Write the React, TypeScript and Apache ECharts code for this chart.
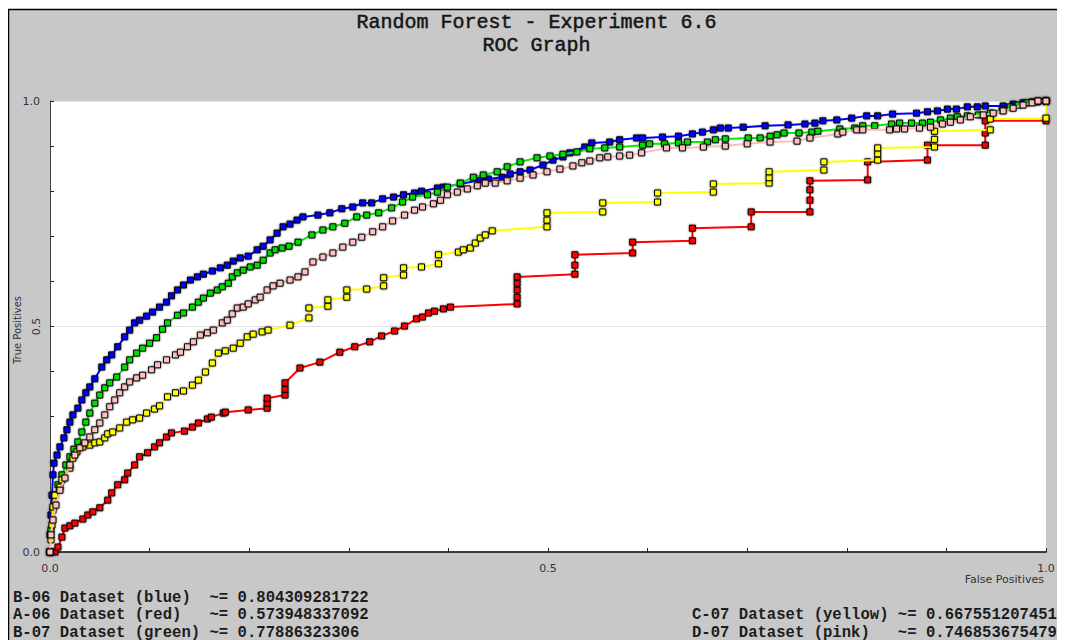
import React, { useEffect, useRef } from "react";
import * as echarts from "echarts";

// ROC points as [false positive rate, true positive rate]
const blueRoc: number[][] = [
  [0, 0], [0, 0.038], [0.001, 0.082], [0.002, 0.126], [0.003, 0.171], [0.004, 0.197], [0.007, 0.215],
  [0.01, 0.233], [0.014, 0.253], [0.017, 0.271], [0.02, 0.288], [0.023, 0.304], [0.028, 0.319],
  [0.032, 0.337], [0.036, 0.353], [0.04, 0.366], [0.045, 0.384], [0.052, 0.41], [0.057, 0.426],
  [0.062, 0.437], [0.068, 0.455], [0.075, 0.477], [0.08, 0.492], [0.085, 0.508], [0.09, 0.514],
  [0.097, 0.523], [0.103, 0.532], [0.11, 0.543], [0.117, 0.554], [0.122, 0.568], [0.128, 0.581],
  [0.134, 0.592], [0.141, 0.603], [0.148, 0.61], [0.154, 0.616], [0.163, 0.623], [0.171, 0.63],
  [0.178, 0.636], [0.184, 0.645], [0.191, 0.652], [0.199, 0.656], [0.208, 0.67], [0.214, 0.678],
  [0.221, 0.692], [0.228, 0.707], [0.234, 0.721], [0.241, 0.727], [0.248, 0.736], [0.254, 0.743],
  [0.269, 0.747], [0.281, 0.752], [0.293, 0.761], [0.304, 0.765], [0.314, 0.774], [0.323, 0.774],
  [0.334, 0.783], [0.345, 0.787], [0.355, 0.792], [0.366, 0.796], [0.373, 0.8], [0.389, 0.807],
  [0.395, 0.809], [0.412, 0.816], [0.432, 0.825], [0.44, 0.827], [0.454, 0.831], [0.462, 0.838],
  [0.472, 0.843], [0.482, 0.847], [0.495, 0.858], [0.505, 0.869], [0.515, 0.876], [0.522, 0.885],
  [0.537, 0.898], [0.544, 0.907], [0.562, 0.909], [0.572, 0.914], [0.589, 0.918], [0.595, 0.918],
  [0.615, 0.92], [0.631, 0.922], [0.645, 0.927], [0.655, 0.931], [0.666, 0.936], [0.673, 0.94],
  [0.681, 0.94], [0.696, 0.942], [0.718, 0.945], [0.741, 0.947], [0.758, 0.949], [0.768, 0.951],
  [0.776, 0.956], [0.79, 0.958], [0.805, 0.962], [0.82, 0.967], [0.831, 0.967], [0.846, 0.971],
  [0.87, 0.973], [0.881, 0.976], [0.891, 0.978], [0.901, 0.982], [0.91, 0.982], [0.921, 0.987],
  [0.931, 0.987], [0.939, 0.989], [0.957, 0.989], [0.967, 0.993], [0.977, 0.996], [0.986, 0.998],
  [0.992, 1], [1, 1],
];

const redRoc: number[][] = [
  [0, 0], [0.005, 0], [0.008, 0.011], [0.012, 0.033], [0.015, 0.053], [0.02, 0.058], [0.025, 0.064],
  [0.033, 0.073], [0.038, 0.082], [0.043, 0.089], [0.05, 0.098], [0.058, 0.115], [0.062, 0.131],
  [0.068, 0.149], [0.075, 0.16], [0.078, 0.175], [0.085, 0.193], [0.09, 0.211], [0.098, 0.22],
  [0.105, 0.233], [0.11, 0.242], [0.117, 0.255], [0.122, 0.264], [0.135, 0.268], [0.143, 0.277],
  [0.149, 0.286], [0.158, 0.295], [0.162, 0.299], [0.174, 0.308], [0.176, 0.31], [0.199, 0.315],
  [0.218, 0.319], [0.218, 0.33], [0.218, 0.341], [0.236, 0.348], [0.236, 0.361], [0.236, 0.375],
  [0.251, 0.408], [0.271, 0.421], [0.291, 0.443], [0.306, 0.455], [0.321, 0.466], [0.333, 0.479],
  [0.346, 0.49], [0.356, 0.501], [0.368, 0.517], [0.374, 0.521], [0.38, 0.53], [0.386, 0.534],
  [0.395, 0.539], [0.402, 0.543], [0.469, 0.55], [0.469, 0.565], [0.469, 0.581], [0.469, 0.596],
  [0.469, 0.61], [0.527, 0.616], [0.527, 0.636], [0.527, 0.659], [0.585, 0.663], [0.585, 0.687],
  [0.645, 0.69], [0.645, 0.718], [0.704, 0.721], [0.704, 0.754], [0.763, 0.754], [0.763, 0.78],
  [0.763, 0.803], [0.763, 0.823], [0.821, 0.825], [0.821, 0.865], [0.881, 0.869], [0.881, 0.902],
  [0.939, 0.902], [0.939, 0.929], [0.939, 0.956], [1, 0.956], [1, 1],
];

const greenRoc: number[][] = [
  [0, 0], [0.001, 0.049], [0.003, 0.093], [0.005, 0.126], [0.008, 0.149], [0.012, 0.171],
  [0.016, 0.193], [0.02, 0.211], [0.024, 0.228], [0.028, 0.244], [0.032, 0.266], [0.036, 0.288],
  [0.04, 0.308], [0.045, 0.33], [0.05, 0.348], [0.055, 0.364], [0.06, 0.375], [0.067, 0.388],
  [0.075, 0.41], [0.08, 0.426], [0.087, 0.441], [0.093, 0.452], [0.1, 0.463], [0.107, 0.475],
  [0.113, 0.494], [0.118, 0.508], [0.128, 0.525], [0.134, 0.53], [0.143, 0.543], [0.149, 0.554],
  [0.154, 0.563], [0.161, 0.574], [0.168, 0.581], [0.173, 0.588], [0.179, 0.596], [0.183, 0.61],
  [0.188, 0.619], [0.194, 0.625], [0.201, 0.632], [0.208, 0.636], [0.214, 0.647], [0.221, 0.663],
  [0.226, 0.67], [0.233, 0.674], [0.24, 0.678], [0.249, 0.687], [0.263, 0.703], [0.274, 0.714],
  [0.284, 0.721], [0.296, 0.729], [0.308, 0.743], [0.318, 0.747], [0.33, 0.752], [0.343, 0.763],
  [0.354, 0.776], [0.364, 0.787], [0.379, 0.792], [0.389, 0.798], [0.399, 0.809], [0.412, 0.818],
  [0.425, 0.831], [0.435, 0.836], [0.449, 0.843], [0.459, 0.854], [0.472, 0.865], [0.489, 0.874],
  [0.502, 0.878], [0.515, 0.882], [0.529, 0.887], [0.542, 0.894], [0.557, 0.896], [0.572, 0.898],
  [0.595, 0.902], [0.602, 0.905], [0.617, 0.905], [0.631, 0.907], [0.64, 0.909], [0.66, 0.909],
  [0.668, 0.914], [0.678, 0.916], [0.701, 0.918], [0.713, 0.918], [0.723, 0.922], [0.73, 0.925],
  [0.737, 0.929], [0.752, 0.929], [0.765, 0.931], [0.771, 0.933], [0.793, 0.938], [0.808, 0.94],
  [0.816, 0.945], [0.828, 0.945], [0.845, 0.949], [0.853, 0.951], [0.865, 0.951], [0.876, 0.951],
  [0.884, 0.953], [0.894, 0.958], [0.904, 0.962], [0.911, 0.965], [0.921, 0.967], [0.932, 0.969],
  [0.944, 0.973], [0.956, 0.98], [0.964, 0.987], [0.972, 0.991], [0.981, 0.996], [0.991, 0.998],
  [1, 1],
];

const yellowRoc: number[][] = [
  [0, 0], [0.001, 0.027], [0.002, 0.06], [0.003, 0.1], [0.005, 0.126], [0.01, 0.144], [0.012, 0.16],
  [0.02, 0.186], [0.023, 0.208], [0.027, 0.222], [0.033, 0.233], [0.04, 0.237], [0.045, 0.242],
  [0.05, 0.244], [0.055, 0.253], [0.058, 0.262], [0.063, 0.266], [0.07, 0.275], [0.077, 0.288],
  [0.083, 0.293], [0.09, 0.297], [0.097, 0.308], [0.105, 0.317], [0.11, 0.324], [0.118, 0.344],
  [0.126, 0.353], [0.134, 0.357], [0.143, 0.37], [0.149, 0.381], [0.156, 0.399], [0.163, 0.419],
  [0.169, 0.441], [0.176, 0.446], [0.184, 0.452], [0.191, 0.463], [0.198, 0.477], [0.204, 0.483],
  [0.213, 0.488], [0.219, 0.492], [0.241, 0.503], [0.26, 0.519], [0.26, 0.541], [0.279, 0.545],
  [0.279, 0.559], [0.298, 0.565], [0.298, 0.581], [0.318, 0.583], [0.335, 0.59], [0.335, 0.608],
  [0.355, 0.614], [0.355, 0.63], [0.373, 0.632], [0.39, 0.639], [0.39, 0.659], [0.41, 0.665],
  [0.415, 0.67], [0.422, 0.674], [0.427, 0.685], [0.432, 0.696], [0.437, 0.703], [0.444, 0.712],
  [0.499, 0.721], [0.499, 0.736], [0.499, 0.752], [0.555, 0.754], [0.555, 0.774], [0.61, 0.776],
  [0.61, 0.796], [0.666, 0.798], [0.666, 0.816], [0.722, 0.818], [0.722, 0.83], [0.722, 0.843],
  [0.777, 0.847], [0.777, 0.865], [0.831, 0.869], [0.831, 0.883], [0.831, 0.896], [0.888, 0.898],
  [0.888, 0.915], [0.888, 0.933], [0.944, 0.936], [0.944, 0.96], [1, 0.962], [1, 1],
];

const pinkRoc: number[][] = [
  [0, 0], [0.001, 0.038], [0.003, 0.071], [0.006, 0.104], [0.01, 0.137], [0.015, 0.164],
  [0.02, 0.193], [0.025, 0.215], [0.03, 0.231], [0.035, 0.242], [0.04, 0.255], [0.045, 0.271],
  [0.05, 0.286], [0.055, 0.304], [0.06, 0.322], [0.065, 0.337], [0.07, 0.353], [0.075, 0.366],
  [0.08, 0.377], [0.087, 0.386], [0.093, 0.392], [0.102, 0.404], [0.108, 0.415], [0.117, 0.426],
  [0.126, 0.437], [0.131, 0.443], [0.138, 0.455], [0.144, 0.466], [0.151, 0.481], [0.158, 0.486],
  [0.164, 0.492], [0.173, 0.508], [0.178, 0.514], [0.183, 0.528], [0.188, 0.541], [0.194, 0.543],
  [0.199, 0.55], [0.206, 0.559], [0.211, 0.565], [0.218, 0.581], [0.224, 0.59], [0.231, 0.596],
  [0.241, 0.603], [0.249, 0.61], [0.256, 0.621], [0.264, 0.643], [0.274, 0.654], [0.284, 0.663],
  [0.294, 0.676], [0.304, 0.687], [0.313, 0.698], [0.324, 0.71], [0.334, 0.721], [0.344, 0.734],
  [0.356, 0.747], [0.366, 0.758], [0.374, 0.765], [0.385, 0.772], [0.392, 0.78], [0.399, 0.792],
  [0.409, 0.798], [0.419, 0.805], [0.429, 0.812], [0.437, 0.818], [0.447, 0.818], [0.459, 0.823],
  [0.472, 0.829], [0.485, 0.836], [0.499, 0.843], [0.512, 0.849], [0.525, 0.856], [0.534, 0.863],
  [0.542, 0.867], [0.552, 0.874], [0.56, 0.876], [0.572, 0.878], [0.582, 0.88], [0.594, 0.885],
  [0.619, 0.896], [0.635, 0.896], [0.656, 0.898], [0.678, 0.9], [0.7, 0.905], [0.723, 0.909],
  [0.75, 0.911], [0.763, 0.918], [0.791, 0.927], [0.796, 0.931], [0.81, 0.936], [0.816, 0.936],
  [0.843, 0.936], [0.85, 0.938], [0.858, 0.938], [0.873, 0.94], [0.884, 0.942], [0.896, 0.949],
  [0.904, 0.953], [0.914, 0.958], [0.924, 0.965], [0.937, 0.969], [0.947, 0.973], [0.957, 0.978],
  [0.967, 0.984], [0.977, 0.991], [0.986, 0.996], [0.992, 1], [1, 1],
];

const datasetNames = [
  "B-06 Dataset (blue)",
  "A-06 Dataset (red)",
  "B-07 Dataset (green)",
  "C-07 Dataset (yellow)",
  "D-07 Dataset (pink)",
];
const aucValues = ["0.804309281722", "0.573948337092", "0.77886323306", "0.667551207451", "0.746853675479"];
const lineColors = ["#0000ff", "#ff0000", "#00f000", "#ffff00", "#ffbcbc"];
const markerColors = ["#0000ff", "#ff0000", "#00e000", "#ffff00", "#ffc0c0"];
const rocSeries = [blueRoc, redRoc, greenRoc, yellowRoc, pinkRoc];

const xTickLabels = ["0.0", "0.5", "1.0"];
const yTickLabels = ["0.0", "1.0"];
const yMidLabels = ["0.5"];

const titleLines = ["Random Forest - Experiment 6.6", "ROC Graph"];
const xAxisName = "False Positives";
const yAxisName = "True Positives";

const W = 1057;
const H = 632;
const GRID = { left: 42, top: 93, width: 996, height: 451 };
const MONO = "'Liberation Mono', 'DejaVu Sans Mono', monospace";
const SANS = "'DejaVu Sans', 'Liberation Sans', sans-serif";

function legendLine(i: number, pad: number): string {
  return datasetNames[i].padEnd(pad, " ") + "~= " + aucValues[i];
}

export default function App() {
  const ref = useRef<HTMLDivElement>(null);

  useEffect(() => {
    if (!ref.current) return;
    const chart = echarts.init(ref.current, undefined, { renderer: "svg" });

    const legendStyle = {
      font: `bold 15.6px ${MONO}`,
      fill: "#1c1c1c",
      textVerticalAlign: "middle",
    };
    const legendLeft = [0, 1, 2].map((i, k) => ({
      type: "text",
      x: 5,
      y: 589.5 + k * 17.5,
      style: { ...legendStyle, text: legendLine(i, 21) },
    }));
    const legendRight = [3, 4].map((i, k) => ({
      type: "text",
      x: 684,
      y: 607 + k * 17.5,
      style: { ...legendStyle, text: legendLine(i, 22) },
    }));

    chart.setOption({
      animation: false,
      backgroundColor: "#c8c8c8",
      grid: {
        left: GRID.left,
        top: GRID.top,
        width: GRID.width,
        height: GRID.height,
        show: true,
        backgroundColor: "#ffffff",
        borderWidth: 0,
      },
      xAxis: {
        type: "value",
        min: 0,
        max: 1,
        interval: 0.1,
        axisLine: { lineStyle: { color: "#000", width: 1.5 } },
        axisTick: { inside: true, length: 4, lineStyle: { color: "#222" } },
        axisLabel: {
          margin: 11,
          fontSize: 11,
          fontFamily: SANS,
          color: "#333",
          showMinLabel: true,
          showMaxLabel: true,
          formatter: (v: number) => (xTickLabels.includes(v.toFixed(1)) ? v.toFixed(1) : ""),
        },
        splitLine: { show: false },
      },
      yAxis: [
        {
          type: "value",
          min: 0,
          max: 1,
          interval: 0.1,
          position: "left",
          axisLine: { show: true, lineStyle: { color: "#444", width: 1 } },
          axisTick: { show: true, inside: true, length: 4, lineStyle: { color: "#222" } },
          axisLabel: {
            margin: 10,
            fontSize: 11,
            fontFamily: SANS,
            color: "#333",
            showMinLabel: true,
            showMaxLabel: true,
            formatter: (v: number) => (yTickLabels.includes(v.toFixed(1)) ? v.toFixed(1) : ""),
          },
          splitLine: { show: false },
        },
        {
          type: "value",
          min: 0,
          max: 1,
          interval: 0.5,
          position: "left",
          axisLine: { show: false },
          axisTick: { show: false },
          axisLabel: {
            margin: 8,
            rotate: 90,
            fontSize: 11,
            fontFamily: SANS,
            color: "#333",
            formatter: (v: number) => (yMidLabels.includes(v.toFixed(1)) ? v.toFixed(1) : ""),
          },
          splitLine: { show: true, lineStyle: { color: "#e2e2e2", width: 1 } },
        },
      ],
      title: {
        text: titleLines.join("\n"),
        left: "center",
        top: 3,
        padding: 0,
        textStyle: {
          fontFamily: MONO,
          fontSize: 20,
          fontWeight: "normal",
          color: "#161616",
          textBorderColor: "#161616",
          textBorderWidth: 0.5,
          lineHeight: 23,
        },
      },
      graphic: [
        { type: "rect", shape: { x: 0, y: 0, width: W, height: 1 }, style: { fill: "#ffffff" }, z: 10 },
        { type: "line", shape: { x1: 0, y1: 1.5, x2: W, y2: 1.5 }, style: { stroke: "#000", lineWidth: 1.5 }, z: 10 },
        { type: "line", shape: { x1: 0.5, y1: 1, x2: 0.5, y2: H }, style: { stroke: "#000", lineWidth: 1.5 }, z: 10 },
        {
          type: "text",
          x: 9,
          y: 322,
          rotation: Math.PI / 2,
          style: {
            text: yAxisName,
            font: `10px ${SANS}`,
            fill: "#333",
            textAlign: "center",
            textVerticalAlign: "middle",
          },
        },
        {
          type: "text",
          x: 1036,
          y: 571,
          style: {
            text: xAxisName,
            font: `11px ${SANS}`,
            fill: "#333",
            textAlign: "right",
            textVerticalAlign: "middle",
          },
        },
        ...legendLeft,
        ...legendRight,
      ],
      series: rocSeries.map((data, i) => ({
        name: datasetNames[i],
        type: "line",
        data,
        xAxisIndex: 0,
        yAxisIndex: 0,
        symbol: "rect",
        symbolSize: 6,
        showAllSymbol: true,
        lineStyle: { color: lineColors[i], width: 2 },
        itemStyle: {
          color: markerColors[i],
          borderColor: "#000",
          borderWidth: 1,
          shadowBlur: 2,
          shadowColor: "rgba(0,0,0,0.55)",
        },
        z: 2 + i,
      })),
    });

    return () => chart.dispose();
  }, []);

  return <div ref={ref} style={{ width: W, height: H }} />;
}
